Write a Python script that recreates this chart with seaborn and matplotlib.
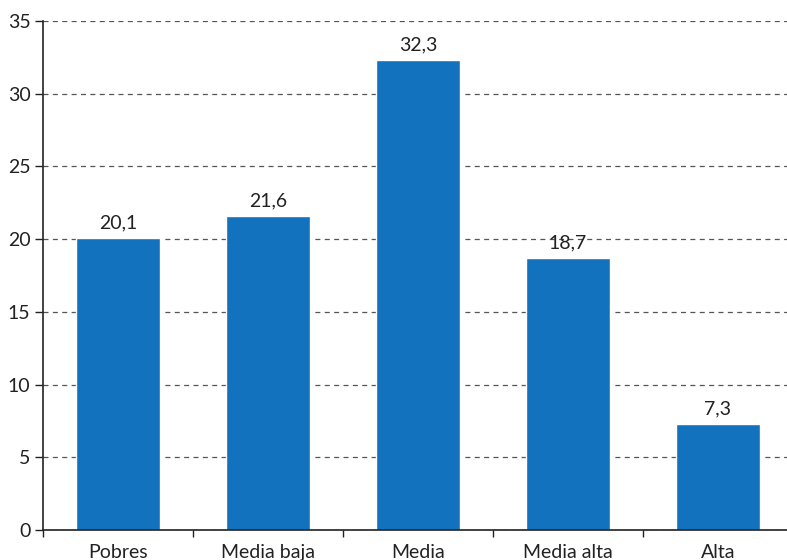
import matplotlib
matplotlib.use("Agg")
import matplotlib.pyplot as plt
import seaborn as sns
import pandas as pd
import numpy as np

categorias = ["Pobres", "Media baja", "Media", "Media alta", "Alta"]
valores = [20.1, 21.6, 32.3, 18.7, 7.3]
etiquetas = ["20,1", "21,6", "32,3", "18,7", "7,3"]
yticks = [0, 5, 10, 15, 20, 25, 30, 35]

df = pd.DataFrame({"cat": categorias, "val": valores})

sns.set_theme(style="white")
plt.rcParams["font.family"] = ["Lato", "DejaVu Sans"]

fig = plt.figure(figsize=(7.87, 5.6), dpi=100)
ax = fig.add_axes([0.0546, 0.0536, 0.953, 0.909])

sns.barplot(data=df, x="cat", y="val", color="#1272BD", saturation=1,
            width=0.56, ax=ax)

for i, (v, t) in enumerate(zip(valores, etiquetas)):
    ax.text(i, v + 0.45, t, ha="center", va="bottom", fontsize=14, color="#222222")

ax.set_ylim(0, 35)
ax.set_xlim(-0.5, 4.5)
ax.set_yticks(yticks)
ax.set_yticklabels([str(y) for y in yticks], fontsize=14, color="#222222")
ax.yaxis.grid(True, linestyle=(0, (4, 3.5)), color="#555555", linewidth=0.9)
ax.set_axisbelow(True)

ax.set_xticks(np.arange(-0.5, 4.6, 1.0))
ax.set_xticklabels([])
ax.set_xticks(range(len(categorias)), minor=True)
ax.set_xticklabels(categorias, minor=True, fontsize=14, color="#222222")
ax.tick_params(axis="x", which="major", length=5, width=1, color="#222222", direction="out", bottom=True)
ax.tick_params(axis="x", which="minor", length=0, pad=10)
ax.tick_params(axis="y", length=6, width=1, color="#222222", direction="out", left=True, pad=3)

ax.set_xlabel("")
ax.set_ylabel("")
for s in ["top", "right"]:
    ax.spines[s].set_visible(False)
for s in ["left", "bottom"]:
    ax.spines[s].set_color("#222222")
    ax.spines[s].set_linewidth(1.2)

fig.savefig("out.png", dpi=100)
